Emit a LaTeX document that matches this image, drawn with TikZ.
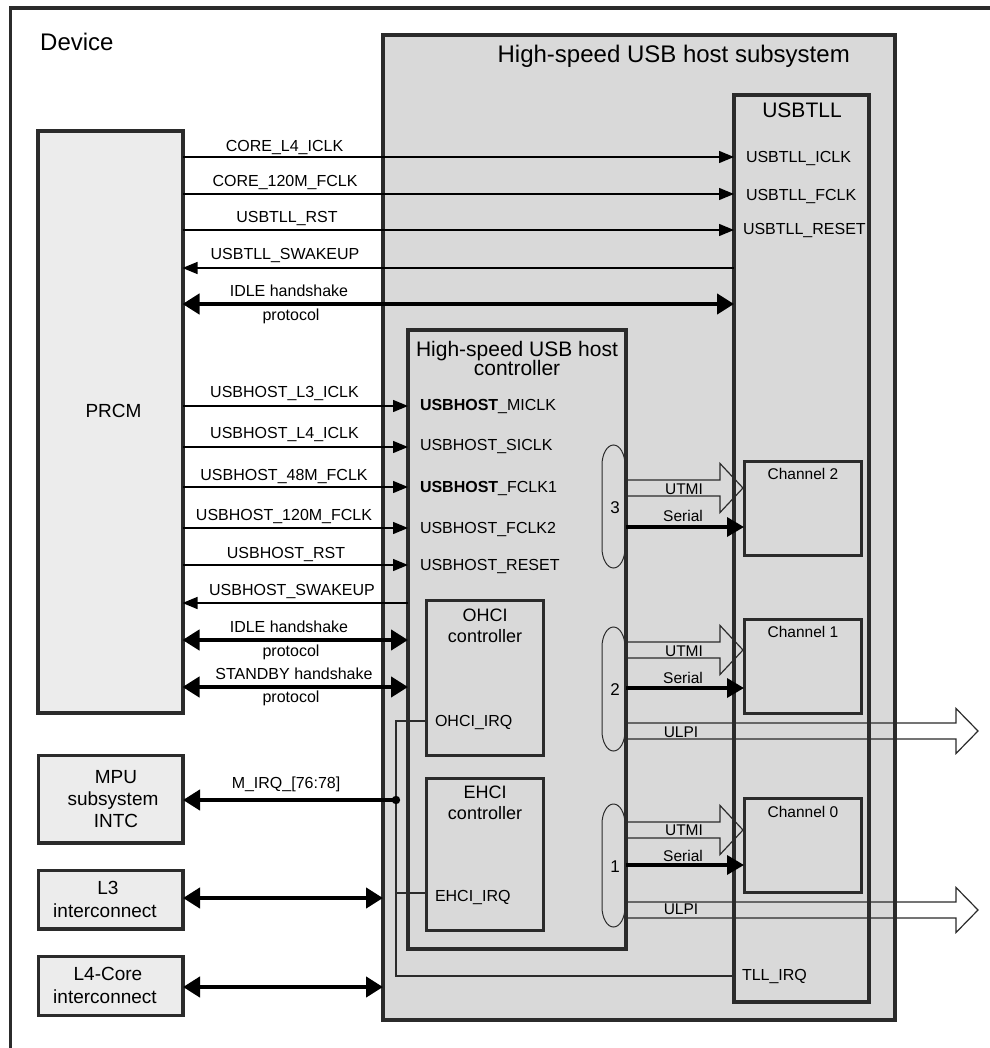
\documentclass[tikz,border=0pt]{standalone}
\usepackage{fontspec}
\setmainfont{Liberation Sans}
\usetikzlibrary{arrows.meta,calc}
\definecolor{edge}{HTML}{2B2B2B}
\definecolor{subfill}{HTML}{D9D9D9}
\definecolor{lightfill}{HTML}{ECECEC}
\newcommand\mypill[2]{\draw[pillline] (602,#1+20) -- (602,#2-20) arc[start angle=180,end angle=360,x radius=11.5pt,y radius=20pt] -- (625,#1+20) arc[start angle=0,end angle=180,x radius=11.5pt,y radius=20pt] -- cycle;}
\begin{document}
\begin{tikzpicture}[x=1pt,y=-1pt,
  box/.style={draw=edge, inner sep=0pt, outer sep=0pt, anchor=north west},
  lab/.style={inner sep=0pt, outer sep=0pt, anchor=base, font=\fontsize{16}{19}\selectfont},
  pin/.style={inner sep=0pt, outer sep=0pt, anchor=base west, font=\fontsize{16}{19}\selectfont},
  small/.style={inner sep=0pt, outer sep=0pt, anchor=base, font=\fontsize{15.5}{18}\selectfont},
  boxtxt/.style={inner sep=0pt, outer sep=0pt, anchor=base, font=\fontsize{19}{22}\selectfont},
  ctitle/.style={inner sep=0pt, outer sep=0pt, anchor=base, font=\fontsize{21}{24}\selectfont},
  otitle/.style={inner sep=0pt, outer sep=0pt, anchor=base, font=\fontsize{18}{21}\selectfont},
  sig/.style={line width=1.3pt, -{Triangle[length=15pt,width=12pt]}},
  sigl/.style={line width=1.3pt, {Triangle[length=15pt,width=12pt]}-},
  hs/.style={line width=4.6pt, {Triangle[length=17pt,width=20pt]}-{Triangle[length=17pt,width=20pt]}},
  irq/.style={line width=4.6pt, -{Triangle[length=17pt,width=20pt]}},
  serialarrow/.style={line width=3.5pt, -{Triangle[length=17pt,width=19pt]}},
  bus/.style={line width=1.2pt, draw=edge},
  hollow/.style={line width=1.2pt, draw=edge},
  pillline/.style={line width=1pt, draw=edge},
  utmiarrow/.pic={\draw[hollow] (0,-8) -- (94,-8) -- (94,-24.5) -- (117,0) -- (94,24.5) -- (94,8) -- (0,8);},
  ulpiarrow/.pic={\draw[hollow] (0,-8) -- (330,-8) -- (330,-22.5) -- (352,0) -- (330,22.5) -- (330,8) -- (0,8);}
]
\useasboundingbox (0,0) rectangle (989,1048);
\fill[white] (0,0) rectangle (989,1048);
% Device frame
\draw[draw=edge, line width=3.5pt] (995,8) -- (10.5,8) -- (10.5,1056);
\node[inner sep=0pt, anchor=base west, font=\fontsize{24}{28}\selectfont] (devtitle) at (40,51) {Device};

% Subsystem
\node[box, line width=4pt, fill=subfill, minimum width=512pt, minimum height=985pt] (sub) at (383,35) {};
\node[inner sep=0pt, anchor=base east, font=\fontsize{24}{28}\selectfont] (subtitle) at (850,63) {High-speed USB host subsystem};

% USBTLL
\node[box, line width=4pt, minimum width=135pt, minimum height=907pt] (tll) at (734,95) {};
\node[ctitle] (tlltitle) at (802,118) {USBTLL};
\node[pin] (p1) at (746,163) {USBTLL\_ICLK};
\node[pin] (p2) at (746,201) {USBTLL\_FCLK};
\node[pin] (p3) at (743,235) {USBTLL\_RESET};
\node[pin] (p4) at (742,980) {TLL\_IRQ};

% Channels
\node[box, line width=3pt, minimum width=117pt, minimum height=94pt] (ch2) at (744,461) {};
\node[box, line width=3pt, minimum width=117pt, minimum height=94pt] (ch1) at (744,619) {};
\node[box, line width=3pt, minimum width=117pt, minimum height=94pt] (ch0) at (744,798) {};
\node[small] (ch2t) at (803,479) {Channel 2};
\node[small] (ch1t) at (803,637) {Channel 1};
\node[small] (ch0t) at (803,817) {Channel 0};

% Controller
\node[box, line width=4pt, minimum width=218pt, minimum height=619pt] (ctrl) at (408,330) {};
\node[ctitle] (ct1) at (517,356) {High-speed USB host};
\node[ctitle] (ct2) at (517,375) {controller};
\node[pin] (q1) at (420,410) {\textbf{USBHOST}\_MICLK};
\node[pin] (q2) at (420,450) {USBHOST\_SICLK};
\node[pin] (q3) at (420,492) {\textbf{USBHOST}\_FCLK1};
\node[pin] (q4) at (420,533) {USBHOST\_FCLK2};
\node[pin] (q5) at (420,570) {USBHOST\_RESET};

% OHCI / EHCI
\node[box, line width=3pt, minimum width=116.5pt, minimum height=155pt] (ohci) at (426.5,600) {};
\node[otitle] (oh1) at (485,621) {OHCI};
\node[otitle] (oh2) at (485,642) {controller};
\node[pin] (ohirq) at (435,726) {OHCI\_IRQ};
\node[box, line width=3pt, minimum width=116.5pt, minimum height=151.5pt] (ehci) at (426.5,778.5) {};
\node[otitle] (eh1) at (485,798) {EHCI};
\node[otitle] (eh2) at (485,819) {controller};
\node[pin] (ehirq) at (435,901) {EHCI\_IRQ};

% Pills
\mypill{445}{568}
\mypill{627}{751}
\mypill{804}{927}
\node[lab, font=\fontsize{17}{20}\selectfont] (n3) at (615,513) {3};
\node[lab, font=\fontsize{17}{20}\selectfont] (n2) at (615,695) {2};
\node[lab, font=\fontsize{17}{20}\selectfont] (n1) at (615,872) {1};

% UTMI / Serial / ULPI
\pic at (ctrl.east |- 0,488) {utmiarrow};
\pic at (ctrl.east |- 0,650) {utmiarrow};
\pic at (ctrl.east |- 0,830) {utmiarrow};
\pic at (ctrl.east |- 0,731) {ulpiarrow};
\pic at (ctrl.east |- 0,910) {ulpiarrow};
\node[small] (u2) at (684,494) {UTMI};
\node[small] (u1) at (684,656) {UTMI};
\node[small] (u0) at (684,835) {UTMI};
\node[small] (s2) at (683,521) {Serial};
\node[small] (s1) at (683,683) {Serial};
\node[small] (s0) at (683,861) {Serial};
\node[small] (l2) at (681,737) {ULPI};
\node[small] (l1) at (681,914) {ULPI};
\draw[serialarrow] (ctrl.east |- 0,527) -- (ch2.west |- 0,527);
\draw[serialarrow] (ctrl.east |- 0,688) -- (ch1.west |- 0,688);
\draw[serialarrow] (ctrl.east |- 0,865) -- (ch0.west |- 0,865);

% PRCM and other left boxes
\node[box, line width=4pt, fill=lightfill, minimum width=144.5pt, minimum height=582pt] (prcm) at (38,131) {};
\node[boxtxt] (prcmt) at (113.5,417) {PRCM};
\node[box, line width=3.5pt, fill=lightfill, minimum width=144.5pt, minimum height=87.5pt] (mpu) at (38.5,755.5) {};
\node[boxtxt] (mpu1) at (116,783) {MPU};
\node[boxtxt] (mpu2) at (113,805) {subsystem};
\node[boxtxt] (mpu3) at (116,827) {INTC};
\node[box, line width=3.5pt, fill=lightfill, minimum width=144.5pt, minimum height=58.5pt] (l3) at (38.5,870.5) {};
\node[boxtxt] (l3a) at (108,894) {L3};
\node[boxtxt] (l3b) at (105,917) {interconnect};
\node[box, line width=3.5pt, fill=lightfill, minimum width=144.5pt, minimum height=59pt] (l4) at (38.5,956.5) {};
\node[boxtxt] (l4a) at (108,980) {L4-Core};
\node[boxtxt] (l4b) at (105,1003) {interconnect};

% PRCM <-> USBTLL
\draw[sig] (prcm.east |- 0,157) -- (tll.west |- 0,157);
\draw[sig] (prcm.east |- 0,194) -- (tll.west |- 0,194);
\draw[sig] (prcm.east |- 0,230) -- (tll.west |- 0,230);
\draw[sigl] (prcm.east |- 0,268) -- (tll.west |- 0,268);
\draw[hs] (prcm.east |- 0,304) -- (tll.west |- 0,304);
\node[lab] (a1) at (284.5,152) {CORE\_L4\_ICLK};
\node[lab] (a2) at (285,187) {CORE\_120M\_FCLK};
\node[lab] (a3) at (287,223) {USBTLL\_RST};
\node[lab] (a4) at (285,260) {USBTLL\_SWAKEUP};
\node[lab] (a5) at (289,296) {IDLE handshake};
\node[lab] (a6) at (291,320) {protocol};

% PRCM <-> controller
\draw[sig] (prcm.east |- 0,406) -- (ctrl.west |- 0,406);
\draw[sig] (prcm.east |- 0,447) -- (ctrl.west |- 0,447);
\draw[sig] (prcm.east |- 0,487) -- (ctrl.west |- 0,487);
\draw[sig] (prcm.east |- 0,528) -- (ctrl.west |- 0,528);
\draw[sig] (prcm.east |- 0,565) -- (ctrl.west |- 0,565);
\draw[sigl] (prcm.east |- 0,603) -- (ctrl.west |- 0,603);
\draw[hs] (prcm.east |- 0,640) -- (ctrl.west |- 0,640);
\draw[hs] (prcm.east |- 0,687) -- (ctrl.west |- 0,687);
\node[lab] (b1) at (284.5,397) {USBHOST\_L3\_ICLK};
\node[lab] (b2) at (284.5,438) {USBHOST\_L4\_ICLK};
\node[lab] (b3) at (284,480) {USBHOST\_48M\_FCLK};
\node[lab] (b4) at (284,520) {USBHOST\_120M\_FCLK};
\node[lab] (b5) at (286,558) {USBHOST\_RST};
\node[lab] (b6) at (292,595) {USBHOST\_SWAKEUP};
\node[lab] (b7) at (289,632) {IDLE handshake};
\node[lab] (b8) at (291,656) {protocol};
\node[lab] (b9) at (294,679) {STANDBY handshake};
\node[lab] (b10) at (291,702) {protocol};

% Interrupt bus
\coordinate (busTop) at (396,721);
\coordinate (busDot) at (396,800);
\coordinate (busE) at (396,893);
\coordinate (busBot) at (396,976);
\draw[bus] (ohci.west |- busTop) -- (busTop) -- (busBot) -- (tll.west |- busBot);
\draw[bus] (ehci.west |- busE) -- (busE);
\fill[black] (busDot) circle (4.2pt);
\draw[irq] (busDot) -- (mpu.east |- busDot);
\node[lab] (irqlab) at (286,788) {M\_IRQ\_[76:78]};

% Interconnects
\draw[hs] (l3.east |- 0,898) -- (sub.west |- 0,898);
\draw[hs] (l4.east |- 0,987) -- (sub.west |- 0,987);
\end{tikzpicture}
\end{document}
